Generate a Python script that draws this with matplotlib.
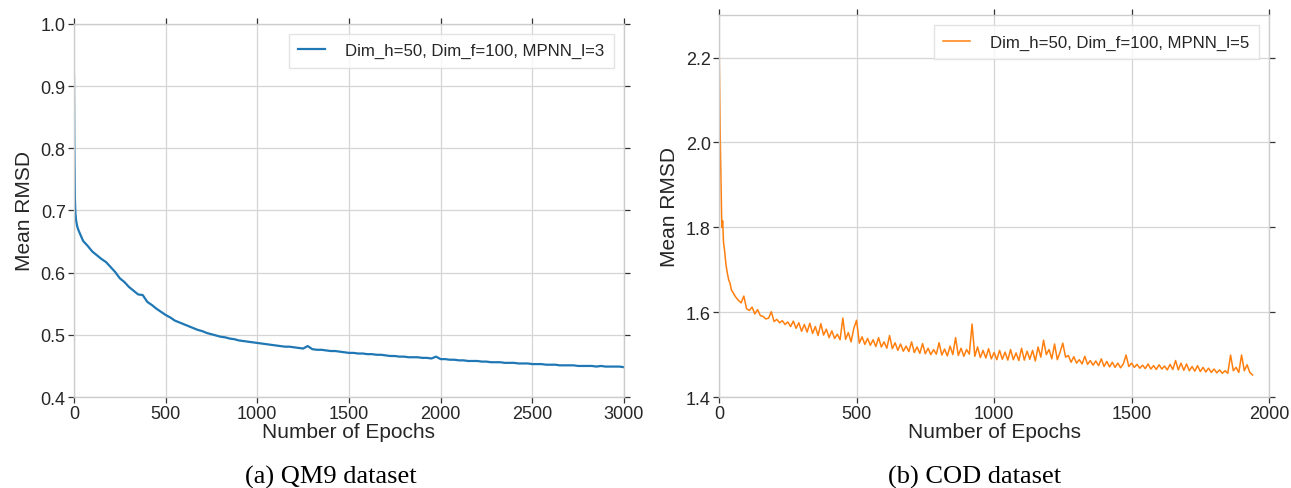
import matplotlib

matplotlib.use('Agg')
import matplotlib.pyplot as plt  # noqa: E402

# QM9 training curve (mean RMSD per epoch)
qm9_epochs = [0, 2, 5, 8, 12, 18] + list(range(25, 3001, 25))
qm9_rmsd = [
    0.917, 0.800, 0.720, 0.695, 0.683, 0.674,
    0.668, 0.651, 0.643, 0.634, 0.628, 0.622, 0.617, 0.609, 0.601, 0.591,
    0.585, 0.577, 0.571, 0.565, 0.564, 0.553, 0.548, 0.542, 0.537, 0.532,
    0.528, 0.523, 0.520, 0.517, 0.514, 0.511, 0.508, 0.506, 0.503, 0.501,
    0.499, 0.497, 0.496, 0.494, 0.493, 0.491, 0.490, 0.489, 0.488, 0.487,
    0.486, 0.485, 0.484, 0.483, 0.482, 0.481, 0.481, 0.480, 0.479, 0.478,
    0.482, 0.477, 0.476, 0.476, 0.475, 0.474, 0.474, 0.473, 0.472, 0.471,
    0.471, 0.470, 0.470, 0.469, 0.469, 0.468, 0.468, 0.467, 0.466, 0.466,
    0.465, 0.465, 0.464, 0.464, 0.464, 0.463, 0.463, 0.462, 0.465, 0.461,
    0.461, 0.460, 0.460, 0.459, 0.459, 0.458, 0.458, 0.458, 0.457, 0.457,
    0.456, 0.456, 0.456, 0.455, 0.455, 0.455, 0.454, 0.454, 0.454, 0.453,
    0.453, 0.453, 0.452, 0.452, 0.452, 0.451, 0.451, 0.451, 0.451, 0.450,
    0.450, 0.450, 0.450, 0.449, 0.450, 0.449, 0.449, 0.449, 0.449, 0.448,
]

# COD training curve
cod_epochs = [0, 2, 4, 6, 8, 10, 13, 16, 20, 25, 30, 35, 40, 45, 50] + list(range(60, 1941, 10))
cod_rmsd = [
    2.235, 2.120, 2.020, 1.940, 1.870, 1.800, 1.815, 1.765, 1.745, 1.712,
    1.692, 1.676, 1.668, 1.652, 1.647,
    1.636, 1.628, 1.622, 1.638, 1.608, 1.604, 1.612, 1.596, 1.606, 1.592,
    1.590, 1.584, 1.586, 1.601, 1.578, 1.583, 1.575, 1.580, 1.571, 1.577,
    1.566, 1.579, 1.562, 1.575, 1.555, 1.571, 1.553, 1.574, 1.550, 1.566,
    1.545, 1.573, 1.546, 1.560, 1.540, 1.556, 1.538, 1.548, 1.535, 1.586,
    1.536, 1.552, 1.530, 1.562, 1.581, 1.527, 1.542, 1.524, 1.538, 1.522,
    1.535, 1.519, 1.540, 1.518, 1.530, 1.515, 1.545, 1.514, 1.528, 1.510,
    1.525, 1.508, 1.520, 1.507, 1.530, 1.505, 1.518, 1.503, 1.526, 1.502,
    1.515, 1.500, 1.512, 1.501, 1.528, 1.499, 1.513, 1.497, 1.520, 1.500,
    1.540, 1.498, 1.515, 1.496, 1.512, 1.501, 1.572, 1.496, 1.518, 1.493,
    1.510, 1.492, 1.514, 1.490, 1.505, 1.488, 1.510, 1.489, 1.506, 1.487,
    1.512, 1.488, 1.504, 1.486, 1.515, 1.487, 1.508, 1.489, 1.510, 1.485,
    1.518, 1.494, 1.534, 1.500, 1.512, 1.490, 1.525, 1.488, 1.506, 1.527,
    1.494, 1.498, 1.482, 1.495, 1.480, 1.488, 1.478, 1.496, 1.477, 1.486,
    1.475, 1.485, 1.474, 1.490, 1.472, 1.484, 1.471, 1.482, 1.470, 1.480,
    1.469, 1.478, 1.499, 1.472, 1.480, 1.470, 1.477, 1.468, 1.475, 1.467,
    1.478, 1.466, 1.474, 1.465, 1.476, 1.466, 1.473, 1.464, 1.477, 1.465,
    1.486, 1.464, 1.480, 1.463, 1.478, 1.462, 1.472, 1.461, 1.474, 1.460,
    1.470, 1.459, 1.468, 1.458, 1.466, 1.457, 1.464, 1.456, 1.462, 1.456,
    1.499, 1.462, 1.470, 1.458, 1.499, 1.462, 1.476, 1.458, 1.452,
]

plt.rcParams['font.family'] = ['Liberation Sans', 'DejaVu Sans']
plt.rcParams['axes.edgecolor'] = '#cccccc'
plt.rcParams['axes.linewidth'] = 1.0
plt.rcParams['grid.color'] = '#d5d5d5'
plt.rcParams['grid.linewidth'] = 0.9

fig = plt.figure(figsize=(12.91, 4.89), dpi=100)
ax1 = fig.add_axes([0.0573, 0.186, 0.426, 0.763])
ax2 = fig.add_axes([0.557, 0.186, 0.426, 0.781])


def style_axis(ax):
    ax.grid(True)
    ax.set_axisbelow(True)
    ax.tick_params(direction='out', length=4, width=0.9, color='#333333',
                   top=True, right=True, labelsize=13, labelcolor='#262626', pad=2)
    ax.set_xlabel('Number of Epochs', fontsize=15, color='#262626', labelpad=0)
    ax.set_ylabel('Mean RMSD', fontsize=15, color='#262626', labelpad=5)
    leg = ax.legend(loc='upper right', fontsize=12.1, fancybox=False, handlelength=1.6,
                    handletextpad=1.2, borderpad=0.55, borderaxespad=0.6, frameon=True)
    leg.get_frame().set_edgecolor('#dddddd')
    leg.get_frame().set_linewidth(1.0)
    for t in leg.get_texts():
        t.set_color('#262626')


ax1.plot(qm9_epochs, qm9_rmsd, color='#1f77b4', lw=1.6, label='Dim_h=50, Dim_f=100, MPNN_l=3')
ax1.set_xlim(0, 3000)
ax1.set_ylim(0.4, 1.0)
ax1.set_xticks([0, 500, 1000, 1500, 2000, 2500, 3000])
ax1.set_yticks([0.4, 0.5, 0.6, 0.7, 0.8, 0.9, 1.0])
style_axis(ax1)

ax2.plot(cod_epochs, cod_rmsd, color='#ff7f0e', lw=1.1, label='Dim_h=50, Dim_f=100, MPNN_l=5')
ax2.set_xlim(0, 2000)
ax2.set_ylim(1.4, 2.3)
ax2.set_xticks([0, 500, 1000, 1500, 2000])
ax2.set_yticks([1.4, 1.6, 1.8, 2.0, 2.2])
style_axis(ax2)

fig.text(0.2565, 0.012, '(a) QM9 dataset', ha='center', va='baseline',
         fontsize=19, family='Liberation Serif')
fig.text(0.755, 0.012, '(b) COD dataset', ha='center', va='baseline',
         fontsize=19, family='Liberation Serif')

fig.savefig('out.png', dpi=100)
plt.close(fig)
